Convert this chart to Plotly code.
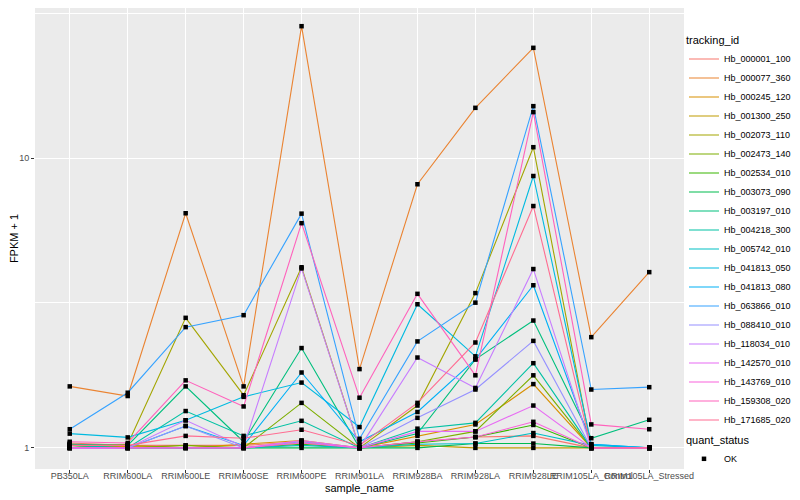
import plotly.graph_objects as go

samples = ["PB350LA", "RRIM600LA", "RRIM600LE", "RRIM600SE", "RRIM600PE",
           "RRIM901LA", "RRIM928BA", "RRIM928LA", "RRIM928LE",
           "RRIM105LA_Control", "RRIM105LA_Stressed"]

tracking_ids = ["Hb_000001_100", "Hb_000077_360", "Hb_000245_120", "Hb_001300_250",
                "Hb_002073_110", "Hb_002473_140", "Hb_002534_010", "Hb_003073_090",
                "Hb_003197_010", "Hb_004218_300", "Hb_005742_010", "Hb_041813_050",
                "Hb_041813_080", "Hb_063866_010", "Hb_088410_010", "Hb_118034_010",
                "Hb_142570_010", "Hb_143769_010", "Hb_159308_020", "Hb_171685_020"]

colors = ["#F8766D", "#EA8331", "#D89000", "#C09B00", "#A3A500", "#7CAE00",
          "#39B600", "#00BB4E", "#00BF7D", "#00C1A3", "#00BFC4", "#00BAE0",
          "#00B0F6", "#35A2FF", "#9590FF", "#C77CFF", "#E76BF3", "#FA62DB",
          "#FF62BC", "#FF6C91"]

# FPKM + 1 values, one list per tracking_id (in sample order)
hb_000001_100 = [1.04, 1.02, 1.02, 1.02, 1.05, 1.00, 1.05, 1.09, 1.10, 1.00, 1.00]
hb_000077_360 = [1.63, 1.51, 6.45, 1.63, 28.5, 1.87, 8.12, 14.9, 24.0, 2.41, 4.04]
hb_000245_120 = [1.02, 1.01, 1.00, 1.03, 1.06, 1.00, 1.10, 1.205, 1.66, 1.00, 1.00]
hb_001300_250 = [1.03, 1.02, 1.00, 1.00, 1.04, 1.00, 1.02, 1.00, 1.00, 1.00, 1.00]
hb_002073_110 = [1.00, 1.03, 2.81, 1.52, 4.20, 1.00, 1.40, 3.42, 10.9, 1.00, 1.00]
hb_002473_140 = [1.02, 1.00, 1.02, 1.00, 1.43, 1.00, 1.05, 1.14, 1.78, 1.00, 1.00]
hb_002534_010 = [1.00, 1.00, 1.00, 1.00, 1.03, 1.00, 1.04, 1.09, 1.20, 1.00, 1.00]
hb_003073_090 = [1.00, 1.00, 1.00, 1.00, 1.00, 1.00, 1.00, 1.035, 1.035, 1.00, 1.00]
hb_003197_010 = [1.03, 1.02, 1.63, 1.05, 2.21, 1.00, 1.12, 2.02, 2.75, 1.08, 1.25]
hb_004218_300 = [1.02, 1.00, 1.34, 1.10, 1.24, 1.00, 1.165, 1.22, 1.96, 1.00, 1.00]
hb_005742_010 = [1.00, 1.00, 1.00, 1.00, 1.02, 1.00, 1.03, 1.035, 1.125, 1.02, 1.00]
hb_041813_050 = [1.12, 1.087, 1.245, 1.50, 1.68, 1.18, 3.13, 2.07, 8.67, 1.03, 1.00]
hb_041813_080 = [1.00, 1.00, 1.19, 1.02, 1.82, 1.05, 1.33, 2.02, 3.64, 1.03, 1.00]
hb_063866_010 = [1.16, 1.55, 2.61, 2.87, 6.43, 1.075, 2.33, 3.17, 15.1, 1.59, 1.62]
hb_088410_010 = [1.00, 1.00, 1.19, 1.00, 1.05, 1.00, 1.27, 1.59, 2.34, 1.00, 1.00]
hb_118034_010 = [1.00, 1.00, 1.245, 1.01, 4.16, 1.00, 2.05, 1.61, 4.14, 1.00, 1.00]
hb_142570_010 = [1.00, 1.00, 1.00, 1.00, 1.06, 1.00, 1.14, 1.14, 1.40, 1.00, 1.00]
hb_143769_010 = [1.00, 1.00, 1.00, 1.00, 1.04, 1.00, 1.05, 1.09, 1.23, 1.00, 1.00]
hb_159308_020 = [1.05, 1.04, 1.71, 1.39, 5.96, 1.49, 3.40, 1.78, 14.4, 1.205, 1.16]
hb_171685_020 = [1.02, 1.02, 1.10, 1.08, 1.155, 1.02, 1.43, 2.31, 6.83, 1.00, 1.00]

series_values = [hb_000001_100, hb_000077_360, hb_000245_120, hb_001300_250,
                 hb_002073_110, hb_002473_140, hb_002534_010, hb_003073_090,
                 hb_003197_010, hb_004218_300, hb_005742_010, hb_041813_050,
                 hb_041813_080, hb_063866_010, hb_088410_010, hb_118034_010,
                 hb_142570_010, hb_143769_010, hb_159308_020, hb_171685_020]

fig = go.Figure()
for name, col, vals in zip(tracking_ids, colors, series_values):
    fig.add_trace(go.Scatter(
        x=samples, y=vals, mode="lines", name=name,
        line=dict(color=col, width=1.1), legend="legend"))

all_x, all_y = [], []
for vals in series_values:
    all_x.extend(samples)
    all_y.extend(vals)
fig.add_trace(go.Scatter(
    x=all_x, y=all_y, mode="markers", name="OK",
    marker=dict(color="black", symbol="square", size=4.5),
    legend="legend2"))

fnt = "Liberation Sans, Arial, sans-serif"
fig.update_layout(
    width=792, height=492,
    margin=dict(l=27, r=116, t=0, b=31, autoexpand=False),
    paper_bgcolor="white", plot_bgcolor="#EBEBEB",
    font=dict(family=fnt, size=11, color="black"),
    xaxis=dict(
        type="category", range=[-0.6, 10.6], tickangle=0, automargin=False,
        showgrid=True, gridcolor="white", gridwidth=1.1,
        ticks="outside", ticklen=3, tickcolor="#333333",
        tickfont=dict(size=9, color="#4D4D4D"), ticklabelstandoff=-5,
        title=dict(text="sample_name", font=dict(size=11), standoff=4),
        zeroline=False, showline=False),
    yaxis=dict(
        type="log", range=[-0.0728, 1.5176], automargin=False,
        tickmode="array", tickvals=[1, 10], ticktext=["1", "10"],
        showgrid=True, gridcolor="white", gridwidth=1.1,
        minor=dict(tickmode="array", tickvals=[3.1623, 31.623],
                   showgrid=True, gridcolor="white", gridwidth=0.5, ticks=""),
        ticks="outside", ticklen=3, tickcolor="#333333",
        tickfont=dict(size=9, color="#4D4D4D"),
        title=dict(text="FPKM + 1", font=dict(size=11), standoff=8),
        zeroline=False, showline=False),
    legend=dict(
        x=1.0, xanchor="left", y=0.952, yanchor="top",
        title=dict(text="tracking_id", font=dict(size=11)),
        font=dict(size=9), bgcolor="rgba(0,0,0,0)",
        itemwidth=30, tracegroupgap=0),
    legend2=dict(
        x=1.0, xanchor="left", y=0.0846, yanchor="top",
        title=dict(text="quant_status", font=dict(size=11)),
        font=dict(size=9), bgcolor="rgba(0,0,0,0)", itemwidth=30),
)

fig.write_html("out.html")
